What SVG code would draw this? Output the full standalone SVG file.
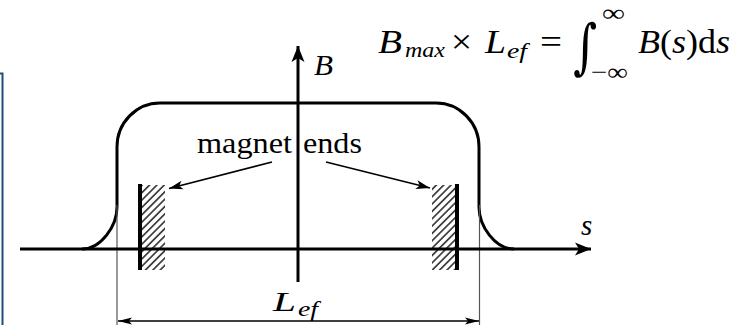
<svg xmlns="http://www.w3.org/2000/svg" width="747" height="325" viewBox="0 0 747 325">
  <style>
    .serif { font-family: "Liberation Serif", "Times New Roman", serif; fill: #000; }
    .it { font-style: italic; }
    .axis { stroke: #000; stroke-width: 3; fill: none; }
    .curve { stroke: #000; stroke-width: 3; fill: none; }
    .thin { stroke: #555; stroke-width: 1.2; fill: none; }
    .lbl { stroke: #000; stroke-width: 1.8; fill: none; }
    .dim { stroke: #000; stroke-width: 1.5; fill: none; }
    .mag { stroke: #000; stroke-width: 4; fill: none; }
  </style>
  <defs>
    <marker id="bigArrow" viewBox="-16 -7 17 14" refX="0" refY="0" markerWidth="17" markerHeight="14" markerUnits="userSpaceOnUse" orient="auto">
      <path d="M0,0 L-16,-6.5 L-12,0 L-16,6.5 Z" fill="#000"/>
    </marker>
    <marker id="midArrow" viewBox="-14 -5 15 10" refX="0" refY="0" markerWidth="15" markerHeight="10" markerUnits="userSpaceOnUse" orient="auto">
      <path d="M0,0 L-14,-4.5 L-10.5,0 L-14,4.5 Z" fill="#000"/>
    </marker>
    <marker id="dimArrow" viewBox="-14 -4 15 8" refX="0" refY="0" markerWidth="15" markerHeight="8" markerUnits="userSpaceOnUse" orient="auto-start-reverse">
      <path d="M0,0 L-14,-3.6 L-11,0 L-14,3.6 Z" fill="#000"/>
    </marker>
    <pattern id="hatch" width="5.2" height="5.2" patternUnits="userSpaceOnUse" patternTransform="rotate(45)">
      <line x1="2.6" y1="0" x2="2.6" y2="5.2" stroke="#000" stroke-width="1.3"/>
    </pattern>
  </defs>

  <g id="frame">
    <path d="M0,73.5 L2.5,73.5 L2.5,325" fill="none" stroke="#1f4e79" stroke-width="2"/>
  </g>

  <g id="field-curve">
    <path class="curve" d="M82,249 C101,249 117,226 117,207 L117,147 C117,122.7 136.3,103 160,103 L436,103 C459.7,103 479,122.7 479,147 L479,207 C479,226 495,249 514,249"/>
    <line class="thin" x1="117" y1="205" x2="117" y2="325"/>
    <line class="thin" x1="479.5" y1="205" x2="479.5" y2="325"/>
  </g>

  <g id="magnet-left">
    <rect x="141" y="185" width="24" height="85" fill="url(#hatch)"/>
    <line class="mag" x1="140" y1="184" x2="140" y2="270"/>
  </g>

  <g id="magnet-right">
    <rect x="432" y="185" width="24" height="85" fill="url(#hatch)"/>
    <line class="mag" x1="457" y1="184" x2="457" y2="270"/>
  </g>

  <g id="axis-s">
    <line class="axis" x1="20" y1="249" x2="591" y2="249" marker-end="url(#bigArrow)"/>
    <text class="serif it" x="581" y="235" font-size="29">s</text>
  </g>

  <g id="axis-B">
    <line class="axis" x1="298" y1="282" x2="298" y2="46" marker-end="url(#bigArrow)"/>
    <text class="serif it" x="314" y="75" font-size="30" textLength="19" lengthAdjust="spacingAndGlyphs">B</text>
  </g>

  <g id="label-magnet-ends">
    <text class="serif" x="197" y="153" font-size="29" textLength="95" lengthAdjust="spacingAndGlyphs">magnet</text>
    <text class="serif" x="303" y="153" font-size="29" textLength="59" lengthAdjust="spacingAndGlyphs">ends</text>
  </g>

  <g id="label-Lef">
    <text class="serif it" x="273" y="311" font-size="28" textLength="23" lengthAdjust="spacingAndGlyphs">L</text>
    <text class="serif it" x="298" y="316" font-size="20" textLength="20" lengthAdjust="spacingAndGlyphs">ef</text>
  </g>

  <g id="formula">
    <text class="serif it" x="378" y="53" font-size="33" textLength="24" lengthAdjust="spacingAndGlyphs">B</text>
    <text class="serif it" x="405" y="57" font-size="22" textLength="40" lengthAdjust="spacingAndGlyphs">max</text>
    <text class="serif" x="451" y="53" font-size="33" textLength="21" lengthAdjust="spacingAndGlyphs">×</text>
    <text class="serif it" x="485" y="53" font-size="33" textLength="21" lengthAdjust="spacingAndGlyphs">L</text>
    <text class="serif it" x="507" y="58" font-size="22" textLength="20" lengthAdjust="spacingAndGlyphs">ef</text>
    <text class="serif" x="540" y="53" font-size="33" textLength="22" lengthAdjust="spacingAndGlyphs">=</text>
    <text x="573" y="67" font-size="60" textLength="24" lengthAdjust="spacingAndGlyphs" style="font-family:'DejaVu Serif',serif">∫</text>
    <text class="serif" x="602" y="21" font-size="24" textLength="23" lengthAdjust="spacingAndGlyphs">∞</text>
    <text class="serif" x="591" y="80" font-size="24" textLength="37" lengthAdjust="spacingAndGlyphs">−∞</text>
    <text class="serif" x="638" y="53" font-size="33" textLength="92" lengthAdjust="spacingAndGlyphs"><tspan font-style="italic">B</tspan>(<tspan font-style="italic">s</tspan>)d<tspan font-style="italic">s</tspan></text>
  </g>

  <g id="connectors">
    <line class="lbl" x1="272" y1="162" x2="169" y2="188.5" marker-end="url(#midArrow)"/>
    <line class="lbl" x1="326" y1="162" x2="430" y2="188" marker-end="url(#midArrow)"/>
    <line class="dim" x1="118" y1="321" x2="479" y2="321" marker-start="url(#dimArrow)" marker-end="url(#dimArrow)"/>
  </g>
</svg>
